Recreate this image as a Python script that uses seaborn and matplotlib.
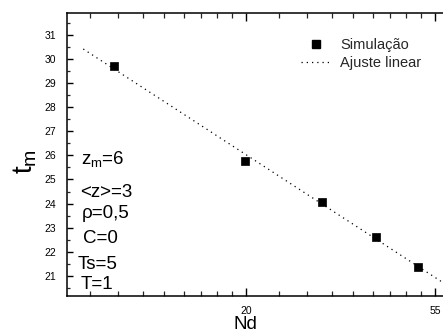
import numpy as np
import matplotlib
matplotlib.use('Agg')
import matplotlib.pyplot as plt
from matplotlib.lines import Line2D
from matplotlib.ticker import FixedLocator, FixedFormatter, NullFormatter
import seaborn as sns
import pandas as pd

# ---- data ----
nd = [10, 20, 30, 40, 50]
tm = [29.70, 25.76, 24.07, 22.62, 21.37]
xtick_vals = [np.e ** 3, np.e ** 4]
xtick_labels = ['20', '55']
ytick_vals = list(range(21, 32))
annotations = [r'$\mathregular{z_m}$=6', '<z>=3', 'ρ=0,5', 'C=0', 'Ts=5', 'T=1']

sns.set_theme(style='ticks')
plt.rcParams['font.family'] = ['Liberation Sans', 'DejaVu Sans']
plt.rcParams['mathtext.fontset'] = 'custom'
plt.rcParams['mathtext.rm'] = 'Liberation Sans'
plt.rcParams['mathtext.it'] = 'Liberation Sans'

W, H = 443, 335
fig = plt.figure(figsize=(W / 100, H / 100), dpi=100)
ax = fig.add_axes([67 / W, 1 - 296 / H, 376 / W, 283 / H])

df = pd.DataFrame({'Nd': nd, 'tm': tm})
b, a = np.polyfit(np.log(df['Nd']), df['tm'], 1)
xf = np.exp(np.linspace(2.139, 4.1, 200))
fit = pd.DataFrame({'Nd': xf, 'tm': a + b * np.log(xf)})

sns.lineplot(data=fit, x='Nd', y='tm', ax=ax, color='black', lw=0.9,
             linestyle=(0, (1, 3.2)), legend=False)
sns.scatterplot(data=df, x='Nd', y='tm', ax=ax, marker='s', s=32,
                color='black', edgecolor='black', linewidth=0.5,
                legend=False, zorder=3)

ax.set_xscale('log', base=np.e)
ax.set_xlim(np.exp(2.053), np.exp(4.042))
ax.set_ylim(20.17, 31.90)

ax.xaxis.set_major_locator(FixedLocator(xtick_vals))
ax.xaxis.set_major_formatter(FixedFormatter(xtick_labels))
minors = []
for n in (2, 3):
    lo, hi = np.e ** n, np.e ** (n + 1)
    minors += [lo + k * (hi - lo) / 9 for k in range(1, 9)]
ax.xaxis.set_minor_locator(FixedLocator(minors))
ax.xaxis.set_minor_formatter(NullFormatter())
ax.yaxis.set_major_locator(FixedLocator(ytick_vals))
ax.yaxis.set_minor_locator(FixedLocator([v + 0.5 for v in range(20, 32)]))

ax.tick_params(axis='x', which='major', direction='in', length=6, width=1,
               top=True, bottom=True, labelsize=7.5, pad=7, colors='black')
ax.tick_params(axis='x', which='minor', direction='in', length=3.5, width=0.9,
               top=True, bottom=True)
ax.tick_params(axis='y', which='major', direction='in', length=4, width=1,
               left=True, right=False, labelsize=7.5, pad=8, colors='black')
ax.tick_params(axis='y', which='minor', direction='in', length=2.5, width=0.9,
               left=True, right=False)

for s in ('left', 'bottom', 'top'):
    ax.spines[s].set_linewidth(1.1)
    ax.spines[s].set_color('black')
ax.spines['right'].set_visible(False)

ax.set_xlabel('Nd', fontsize=13.5, color='black')
ax.set_ylabel(r'$\mathregular{t_m}$', fontsize=20, color='black')
ax.xaxis.set_label_coords((245 - 67) / 376, (296 - 316) / 283)
ax.yaxis.set_label_coords((39 - 67) / 376, (296 - 162) / 283)

# annotations (left x, baseline y in pixels)
pos = [(81, 164), (80, 197), (82, 218), (83, 243), (78, 269), (81, 289)]
for txt, (px, py) in zip(annotations, pos):
    fig.text(px / W, 1 - py / H, txt, fontsize=13.5, color='black',
             ha='left', va='baseline')

handles = [Line2D([], [], marker='s', color='black', linestyle='None', markersize=5.5),
           Line2D([], [], color='black', lw=0.9, linestyle=(0, (1, 3.2)))]
ax.legend(handles, ['Simulação', 'Ajuste linear'], loc='upper left',
          bbox_to_anchor=(301 / W, 1 - 38 / H), bbox_transform=fig.transFigure,
          frameon=False, fontsize=10.5, handlelength=2.0, handletextpad=0.7,
          labelspacing=0.25, borderpad=0, borderaxespad=0)

fig.savefig('out.png', dpi=100)
